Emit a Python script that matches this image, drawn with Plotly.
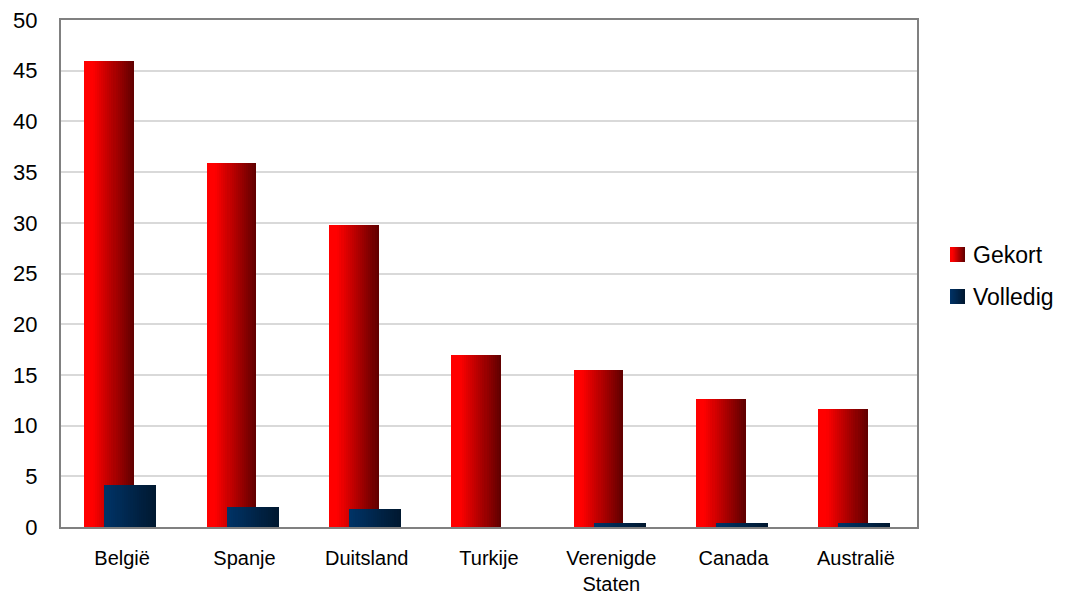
import plotly.graph_objects as go

# Data
countries = ["België", "Spanje", "Duitsland", "Turkije", "Verenigde<br>Staten", "Canada", "Australië"]
gekort = [46.0, 35.9, 29.8, 17.0, 15.5, 12.6, 11.6]
volledig = [4.1, 2.0, 1.8, 0.0, 0.4, 0.4, 0.4]
series_names = ["Gekort", "Volledig"]

FONT = "Liberation Sans, Arial, sans-serif"
N_SLICES = 24

# Layout geometry (pixels)
W, H = 1065, 596
L, R, T, B = 61, 148, 20, 69
PW, PH = W - L - R, H - T - B


def red_shade(t):
    u = max(0.0, (t - 0.15) / 0.85)
    r = int(round(255 - (255 - 98) * u))
    return f"rgb({r},0,0)"


def blue_shade(t):
    g = int(round(51 - (51 - 24) * t))
    b = int(round(102 - (102 - 48) * t))
    return f"rgb(0,{g},{b})"


x_idx = list(range(len(countries)))
fig = go.Figure()


def add_gradient_bars(values, offset, width, shade):
    # Each slice runs from its left edge to the bar's right edge, so later
    # (darker) slices paint over the right part without leaving seams.
    for i in range(N_SLICES):
        t = i / (N_SLICES - 1)
        start = offset + width * i / N_SLICES
        fig.add_trace(go.Bar(
            x=x_idx, y=values,
            offset=start, width=offset + width - start,
            marker=dict(color=shade(t), line=dict(width=0)),
            showlegend=False, hoverinfo="skip",
        ))


add_gradient_bars(gekort, -0.308, 0.406, red_shade)
add_gradient_bars(volledig, -0.145, 0.425, blue_shade)

# Legend drawn as gradient squares plus labels
shapes = []
annotations = []


def px_to_paper(px, py):
    return (px - L) / PW, (H - B - py) / PH


legend_items = [(series_names[0], red_shade, 247), (series_names[1], blue_shade, 289)]
for name, shade, top in legend_items:
    x0, x1 = 950, 965
    for i in range(N_SLICES):
        t = i / (N_SLICES - 1)
        sx = x0 + (x1 - x0) * i / N_SLICES
        ax0, ay1 = px_to_paper(sx, top)
        ax1, ay0 = px_to_paper(x1, top + 15)
        shapes.append(dict(type="rect", xref="paper", yref="paper",
                           x0=ax0, x1=ax1, y0=ay0, y1=ay1,
                           fillcolor=shade(t), line=dict(width=0)))
    tx, ty = px_to_paper(971, top + 7.5)
    annotations.append(dict(text=name, xref="paper", yref="paper", x=tx, y=ty,
                            xanchor="left", yanchor="middle", showarrow=False,
                            font=dict(family=FONT, size=23, color="#000000")))

fig.update_layout(
    width=W, height=H,
    margin=dict(l=L, r=R, t=T, b=B, pad=0, autoexpand=False),
    barmode="overlay",
    bargap=0,
    paper_bgcolor="white",
    plot_bgcolor="white",
    showlegend=False,
    shapes=shapes,
    annotations=annotations,
    xaxis=dict(
        range=[-0.5, len(countries) - 0.5],
        tickvals=x_idx, ticktext=countries,
        showgrid=False, zeroline=False, automargin=False,
        showline=True, mirror=True, linecolor="#808080", linewidth=2,
        ticks="", ticklabelstandoff=12,
        tickfont=dict(family=FONT, size=20, color="#000000"),
    ),
    yaxis=dict(
        range=[0, 50], dtick=5, tick0=0,
        showgrid=True, gridcolor="#d9d9d9", gridwidth=2,
        zeroline=False, automargin=False,
        showline=True, mirror=True, linecolor="#808080", linewidth=2,
        ticks="", ticklabelstandoff=17,
        tickfont=dict(family=FONT, size=22, color="#000000"),
    ),
)

fig.write_html("out.html")
